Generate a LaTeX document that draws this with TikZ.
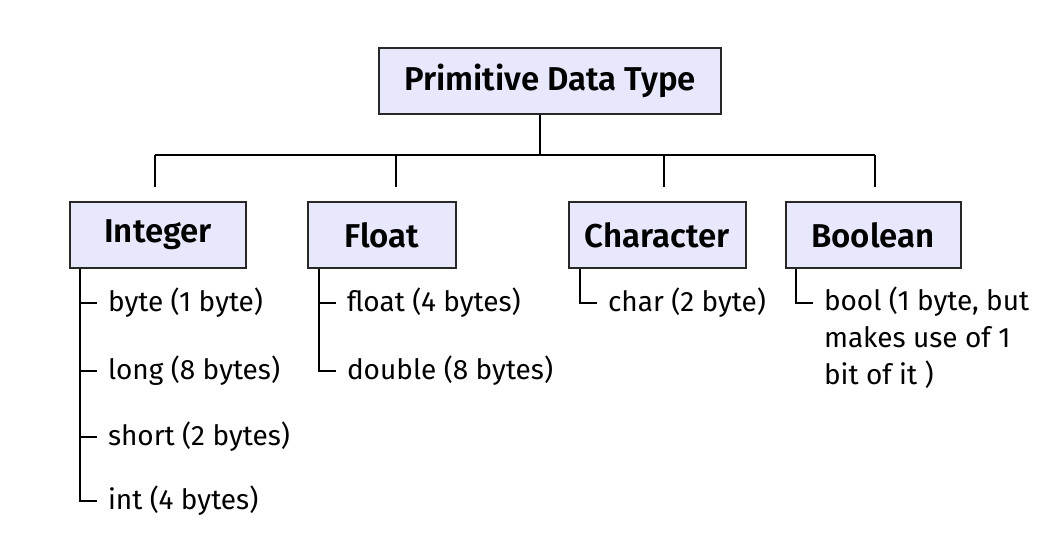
\documentclass[tikz,border=0pt]{standalone}
\usepackage{fontspec}
\setmainfont{Fira Sans}[BoldFont={Fira Sans SemiBold}]
\definecolor{boxfill}{RGB}{232,232,252}
\definecolor{boxline}{RGB}{40,40,40}

\begin{document}
\begin{tikzpicture}[x=1pt, y=-1pt, line width=2pt,
    typebox/.style={rectangle, draw=boxline, fill=boxfill, inner sep=0pt, minimum height=66pt, font=\fontsize{33}{38}\selectfont\bfseries},
    item/.style={anchor=west, inner ysep=0pt, inner xsep=10pt, font=\fontsize{28}{37}\selectfont}]
    \useasboundingbox (0,0) rectangle (1044,537);

    \node[typebox, minimum width=342pt] (top) at (550,81) {Primitive Data Type};
    \node[typebox, minimum width=176pt] (int) at (158,235) {Integer};
    \node[typebox, minimum width=148pt] (flt) at (382,235) {Float};
    \node[typebox, minimum width=177pt] (chr) at (657,235) {Character};
    \node[typebox, minimum width=175pt] (bool) at (873,235) {Boolean};

    \coordinate (jn) at (540,155);
    \coordinate (d1) at (155,155);
    \coordinate (d2) at (396,155);
    \coordinate (d3) at (664,155);
    \coordinate (d4) at (875,155);

    \draw (jn |- top.south) -- (jn);
    \draw (d1) -- (d4);
    \foreach \d/\b in {d1/int, d2/flt, d3/chr, d4/bool}
        \draw (\d) -- ([yshift=14pt]\b.north -| \d);

    \node[item] (byte) at (97,303) {byte (1 byte)};
    \node[item] (long) at (97,371) {long (8 bytes)};
    \node[item] (short) at (97,437) {short (2 bytes)};
    \node[item] (intq) at (97,501) {int (4 bytes)};
    \node[item] (fl) at (336,303) {float (4 bytes)};
    \node[item] (dbl) at (336,371) {double (8 bytes)};
    \node[item] (ch) at (597,303) {char (2 byte)};
    \node[item, anchor=north west, align=left] (bl) at (813,286) {bool (1 byte, but\\makes use of 1\\bit of it )};

    \foreach \n in {byte, long, short, intq}
        \draw ([xshift=11pt]int.south west) |- (\n.west);
    \foreach \n in {fl, dbl}
        \draw ([xshift=12pt]flt.south west) |- (\n.west);
    \draw ([xshift=12pt]chr.south west) |- (ch.west);
    \draw ([xshift=11pt]bool.south west) |- ([yshift=-17pt]bl.north west);
\end{tikzpicture}
\end{document}
